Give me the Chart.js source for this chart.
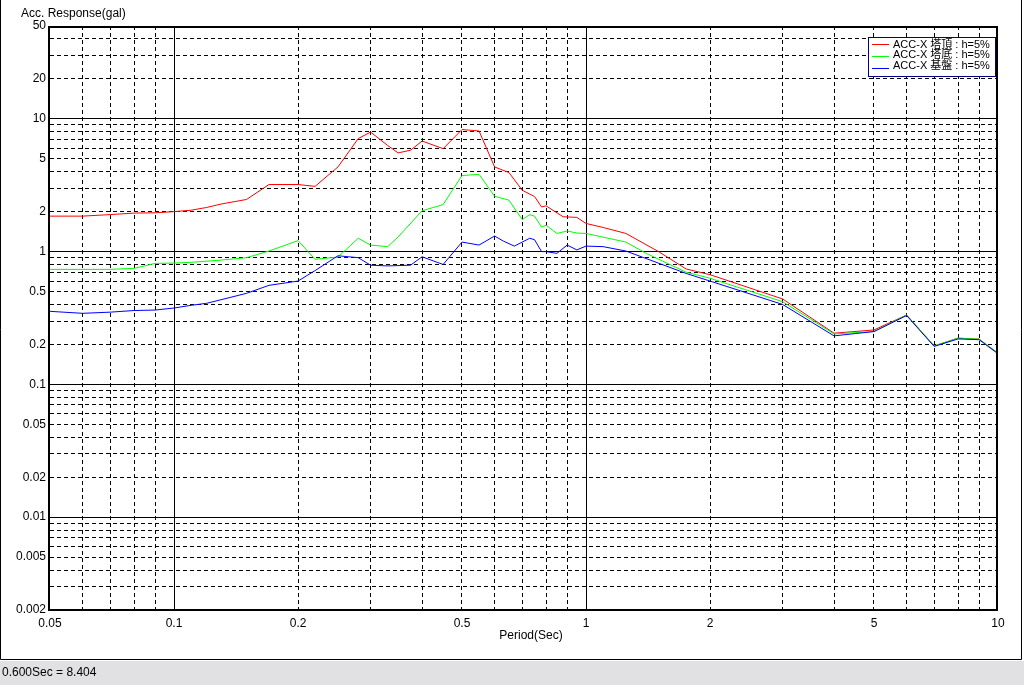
<!DOCTYPE html>
<html><head><meta charset="utf-8">
<script src="https://cdn.jsdelivr.net/npm/chart.js@4.4.0/dist/chart.umd.min.js"></script>
<style>html,body{margin:0;padding:0;background:#fff;overflow:hidden}canvas{display:block}</style>
</head><body>
<canvas id="c" width="1024" height="685"></canvas>
<script>
const periods = [0.05,0.06,0.07,0.08,0.09,0.10,0.11,0.12,0.13,0.15,0.17,0.20,0.22,0.25,0.28,0.30,0.33,0.35,0.375,0.40,0.45,0.50,0.55,0.60,0.63,0.65,0.67,0.70,0.73,0.75,0.78,0.80,0.85,0.88,0.90,0.95,1.0,1.1,1.25,1.4,1.5,1.75,2,3,4,5,6,7,8,9,10];
const accTop = [1.85,1.85,1.90,1.95,1.96,2.00,2.05,2.15,2.28,2.47,3.20,3.20,3.10,4.34,7.10,7.95,6.30,5.54,5.80,6.80,5.96,8.30,8.10,4.34,null,3.94,null,2.90,null,2.60,2.17,2.21,null,1.83,null,1.81,1.63,1.52,1.37,null,1.00,0.74,0.67,0.44,0.243,0.257,0.333,0.195,0.223,0.219,0.172];
const accBottom = [0.735,null,0.735,0.748,0.815,0.82,0.83,null,0.863,0.90,1.01,1.21,0.875,0.91,1.26,1.12,1.09,1.29,null,2.03,2.26,3.74,3.82,2.61,null,2.44,null,1.74,1.90,1.85,1.53,1.58,1.37,null,1.43,1.38,1.37,null,1.18,0.97,null,0.70,0.63,0.42,0.24,0.25,0.333,0.195,0.223,0.219,0.172];
const accBase = [0.355,0.343,0.35,0.36,0.363,0.376,0.394,0.408,null,0.485,0.557,0.60,0.72,0.93,0.90,0.79,0.78,null,0.79,0.914,0.80,1.18,1.12,1.31,1.20,null,1.10,null,1.26,1.23,1.00,1.00,0.97,null,1.12,1.03,1.10,1.09,1.01,null,null,0.685,0.60,0.40,0.232,0.25,0.33,0.193,0.22,0.217,0.17];
const seriesNames = ['ACC-X 塔頂 : h=5%','ACC-X 塔底 : h=5%','ACC-X 基盤 : h=5%'];
const seriesColors = ['#ff0000','#00ff00','#0000ff'];
const xTickLabels = ['0.05','0.1','0.2','0.5','1','2','5','10'];
const yTickLabels = ['0.002','0.005','0.01','0.02','0.05','0.1','0.2','0.5','1','2','5','10','20','50'];
const xMajorGrid = [0.1,1];
const yMajorGrid = [0.01,0.1,1,10];
const xMinorGrid = [0.06,0.07,0.08,0.09,0.2,0.3,0.4,0.5,0.6,0.7,0.8,0.9,2,3,4,5,6,7,8,9];
const yMinorGrid = [0.003,0.004,0.005,0.006,0.007,0.008,0.009,0.02,0.03,0.04,0.05,0.06,0.07,0.08,0.09,0.2,0.3,0.4,0.5,0.6,0.7,0.8,0.9,2,3,4,5,6,7,8,9,20,30,40];
const yTitle = 'Acc. Response(gal)';
const xTitle = 'Period(Sec)';
const statusText = '0.600Sec = 8.404';

const FONT = '"Liberation Sans","Noto Sans CJK JP",Arial,sans-serif';
const seriesValues = [accTop, accBottom, accBase];

function points(vals){
  const out = [];
  for (let i = 0; i < periods.length; i++) if (vals[i] !== null) out.push({x: periods[i], y: vals[i]});
  return out;
}
const isMajor = (list, v) => list.some(m => Math.abs(m - v) < 1e-9);

const decorPlugin = {
  id: 'decor',
  beforeDraw(chart){
    const c = chart.ctx;
    c.save();
    c.fillStyle = '#ffffff';
    c.fillRect(0,0,chart.width,chart.height);
    c.restore();
  },
  afterDraw(chart){
    const c = chart.ctx, a = chart.chartArea;
    c.save();
    // plot frame
    c.strokeStyle = '#000'; c.lineWidth = 2;
    c.strokeRect(a.left - 1, a.top + 1, a.right - a.left, a.bottom - a.top - 1);
    // window frame & status bar
    c.fillStyle = '#e1e1e4';
    c.fillRect(0, 661, chart.width, chart.height - 661);
    c.lineWidth = 1; c.strokeStyle = '#000';
    c.beginPath();
    c.moveTo(0.5, 0); c.lineTo(0.5, 659.5); c.lineTo(1021.5, 659.5); c.lineTo(1021.5, 0);
    c.stroke();
    c.fillStyle = '#000';
    c.font = '12px ' + FONT;
    c.textBaseline = 'middle';
    c.textAlign = 'left';
    c.fillText(yTitle, 21, 14);
    c.fillText(statusText, 2, 673);
    c.textAlign = 'center';
    c.fillText(xTitle, 531, 636);
    // legend
    const lx = 868, ly = 37, lw = 127, lh = 39;
    c.fillStyle = '#fff';
    c.fillRect(lx, ly, lw, lh);
    c.strokeStyle = '#000080'; c.lineWidth = 1;
    c.strokeRect(lx + 0.5, ly + 0.5, lw, lh);
    const textY = [44.5, 55, 65.5];
    const lineY = [44.5, 56.5, 68.5];
    c.textAlign = 'left';
    c.font = '11px ' + FONT;
    for (let i = 0; i < seriesNames.length; i++) {
      c.strokeStyle = seriesColors[i];
      c.beginPath(); c.moveTo(872, lineY[i]); c.lineTo(889, lineY[i]); c.stroke();
      c.fillStyle = '#000';
      c.fillText(seriesNames[i], 893, textY[i], 99);
    }
    c.restore();
  }
};

const tickFont = {family: FONT, size: 12};

new Chart(document.getElementById('c'), {
  type: 'line',
  data: {
    datasets: seriesValues.map((vals, i) => ({
      label: seriesNames[i],
      data: points(vals),
      borderColor: seriesColors[i],
      backgroundColor: seriesColors[i],
      borderWidth: 1,
      pointRadius: 0,
      tension: 0,
      fill: false,
      order: 2 - i
    }))
  },
  options: {
    responsive: false,
    animation: false,
    events: [],
    layout: {padding: {left: 0, top: 26, right: 26, bottom: 35}},
    plugins: {legend: {display: false}, tooltip: {enabled: false}, title: {display: false}},
    scales: {
      x: {
        type: 'logarithmic', position: 'bottom', min: 0.05, max: 10,
        afterBuildTicks: s => { s.ticks = xTickLabels.map(v => ({value: parseFloat(v)})); },
        afterFit: s => { s.height = 40; },
        ticks: {callback: (v, i) => xTickLabels[i], autoSkip: false, maxRotation: 0, minRotation: 0, padding: 6, color: '#000', font: tickFont},
        grid: {drawTicks: false, lineWidth: 1, color: ctx => (ctx.tick && isMajor(xMajorGrid, ctx.tick.value)) ? '#000' : 'rgba(0,0,0,0)'},
        border: {display: false}
      },
      x2: {
        type: 'logarithmic', position: 'top', min: 0.05, max: 10,
        afterBuildTicks: s => { s.ticks = xMinorGrid.map(v => ({value: v})); },
        afterFit: s => { s.height = 0; },
        ticks: {display: false},
        grid: {drawTicks: false, lineWidth: 1, color: '#000'},
        border: {display: false, dash: [4, 3]}
      },
      y: {
        type: 'logarithmic', position: 'left', min: 0.002, max: 50,
        afterBuildTicks: s => { s.ticks = yTickLabels.map(v => ({value: parseFloat(v)})); },
        afterFit: s => { s.width = 50; },
        ticks: {callback: (v, i) => yTickLabels[i], autoSkip: false, padding: 4, color: '#000', font: tickFont},
        grid: {drawTicks: false, lineWidth: 1, color: ctx => (ctx.tick && isMajor(yMajorGrid, ctx.tick.value)) ? '#000' : 'rgba(0,0,0,0)'},
        border: {display: false}
      },
      y2: {
        type: 'logarithmic', position: 'right', min: 0.002, max: 50,
        afterBuildTicks: s => { s.ticks = yMinorGrid.map(v => ({value: v})); },
        afterFit: s => { s.width = 0; },
        ticks: {display: false},
        grid: {drawTicks: false, lineWidth: 1, color: '#000'},
        border: {display: false, dash: [4, 3]}
      }
    }
  },
  plugins: [decorPlugin]
});
</script>
</body></html>
